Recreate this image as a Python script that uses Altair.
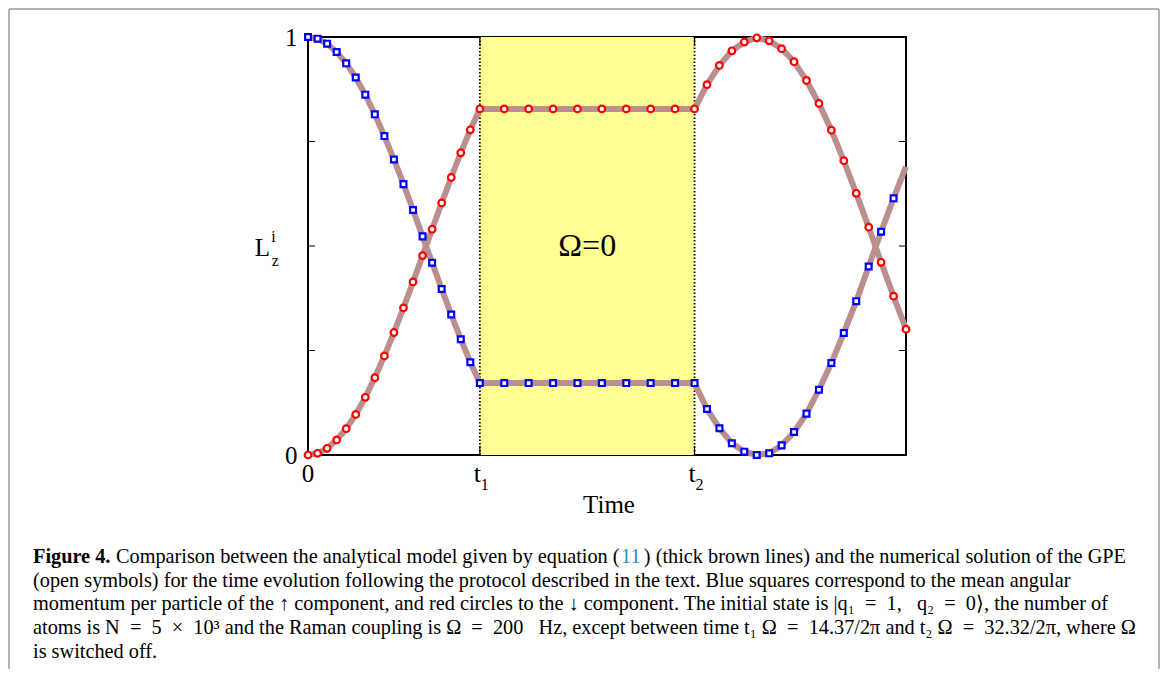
import altair as alt
import pandas as pd

# ---------------- data ----------------
T1 = 14.37
T2 = 32.32
T_END = 50.0

time = [0.0, 0.798, 1.597, 2.395, 3.193, 3.992, 4.790, 5.588, 6.387, 7.185,
        7.983, 8.782, 9.580, 10.378, 11.177, 11.975, 12.773, 13.572, 14.37,
        16.41, 18.45, 20.49, 22.53, 24.57, 26.61, 28.65, 30.69,
        32.32, 33.36, 34.40, 35.44, 36.48, 37.52, 38.56, 39.60, 40.64, 41.68,
        42.72, 43.76, 44.80, 45.84, 46.88, 47.92, 48.96, 50.00]

lz_up = [1.000, 0.996, 0.984, 0.964, 0.937, 0.903, 0.862, 0.815, 0.763, 0.707,
         0.648, 0.586, 0.523, 0.460, 0.397, 0.336, 0.277, 0.222, 0.172,
         0.172, 0.172, 0.172, 0.172, 0.172, 0.172, 0.172, 0.172,
         0.172, 0.110, 0.064, 0.028, 0.008, 0.000, 0.004, 0.023, 0.055, 0.099,
         0.156, 0.220, 0.292, 0.368, 0.451, 0.534, 0.614, 0.690]

lz_down = [0.000, 0.004, 0.016, 0.036, 0.063, 0.097, 0.138, 0.185, 0.237, 0.293,
           0.352, 0.414, 0.477, 0.540, 0.603, 0.664, 0.723, 0.778, 0.828,
           0.828, 0.828, 0.828, 0.828, 0.828, 0.828, 0.828, 0.828,
           0.828, 0.886, 0.932, 0.967, 0.988, 0.998, 0.991, 0.972, 0.941, 0.896,
           0.841, 0.777, 0.704, 0.626, 0.545, 0.461, 0.380, 0.301]

up_marker_n = 44          # last time point of the up curve carries no square
y_ticks = [0.25, 0.5, 0.75]
x_ticks = [T1, T2]
x_sub = ["1", "2"]
omega_label = "Ω=0"

E = "\u2002"  # math spacing around relations
caption_lines = [
    "(open symbols) for the time evolution following the protocol described in the text. Blue squares correspond to the mean angular",
    f"momentum per particle of the ↑ component, and red circles to the ↓ component. The initial state is |q₁{E}={E}1,{E} q₂{E}={E}0⟩, the number of",
    f"atoms is N{E}={E}5{E}×{E}10³ and the Raman coupling is Ω{E}={E}200{E} Hz, except between time t₁ Ω{E}={E}14.37/2π and t₂ Ω{E}={E}32.32/2π, where Ω",
    "is switched off.",
]

# ---------------- styling ----------------
SERIF = "Liberation Serif"
BROWN = "#bc8f8f"
HATCH = "#ffff94"
W, H = 598, 418
CAP = 20.3

df_line = pd.DataFrame({
    "t": time * 2,
    "v": lz_up + lz_down,
    "s": ["up"] * len(time) + ["down"] * len(time),
})
df_up = pd.DataFrame({"t": time[:up_marker_n], "v": lz_up[:up_marker_n]})
df_down = pd.DataFrame({"t": time, "v": lz_down})
df_band = pd.DataFrame({"a": [T1], "b": [T2], "lo": [0.0], "hi": [1.0]})
df_xt = pd.DataFrame({"t": x_ticks, "sub": x_sub})
df_yt = pd.DataFrame({"v": y_ticks})
df_om = pd.DataFrame({"t": [(T1 + T2) / 2], "v": [0.5], "lab": [omega_label]})
df_zero = pd.DataFrame({"t": [0.0]})
one = pd.DataFrame({"a": [0]})

xs = alt.Scale(domain=[0, T_END], nice=False, zero=False)
ys = alt.Scale(domain=[0, 1], nice=False, zero=False)
yaxis = alt.Axis(values=[0, 1], labelExpr="datum.value == 0 ? '0' : '1'",
                 ticks=False, tickSize=0, domain=False, grid=False,
                 labelFont=SERIF, labelFontSize=25, labelColor="black",
                 labelPadding=11, title=None)


def X(f):
    return alt.X(f, type="quantitative", scale=xs, axis=None)


def Y(f):
    return alt.Y(f, type="quantitative", scale=ys, axis=yaxis)


band = alt.Chart(df_band).mark_rect(color=HATCH).encode(
    x=X("a"), x2="b", y=Y("lo"), y2="hi")

dotted = alt.Chart(df_xt).mark_rule(color="black", strokeDash=[1.5, 2], strokeWidth=1.8).encode(
    x=X("t"), y=alt.value(0), y2=alt.value(H))

tick_l = alt.Chart(df_yt).mark_rule(color="black", strokeWidth=1).encode(
    y=Y("v"), x=alt.value(0), x2=alt.value(7))
tick_r = alt.Chart(df_yt).mark_rule(color="black", strokeWidth=1).encode(
    y=Y("v"), x=alt.value(W - 7), x2=alt.value(W))
tick_b = alt.Chart(df_xt).mark_rule(color="black", strokeWidth=1.2).encode(
    x=X("t"), y=alt.value(H - 9), y2=alt.value(H))
tick_t = alt.Chart(df_xt).mark_rule(color="black", strokeWidth=1.2).encode(
    x=X("t"), y=alt.value(0), y2=alt.value(9))

lines = alt.Chart(df_line).mark_line(color=BROWN, strokeWidth=6).encode(
    x=X("t"), y=Y("v"), detail="s")

red_pts = alt.Chart(df_down).mark_point(shape="circle", size=44, filled=True, fill="white",
                                        stroke="#ff0000", strokeWidth=2.2, opacity=1).encode(
    x=X("t"), y=Y("v"))
blue_pts = alt.Chart(df_up).mark_point(shape="square", size=34, filled=True, fill="white",
                                       stroke="#0000ff", strokeWidth=2.2, opacity=1).encode(
    x=X("t"), y=Y("v"))

omega = alt.Chart(df_om).mark_text(font=SERIF, fontSize=32, color="black", baseline="middle").encode(
    x=X("t"), y=Y("v"), text="lab")

xlab0 = alt.Chart(df_zero).mark_text(font=SERIF, fontSize=25, color="black", baseline="alphabetic",
                                     text="0").encode(x=X("t"), y=alt.value(444.7))
xlab_t = alt.Chart(df_xt).mark_text(font=SERIF, fontSize=26, color="black", baseline="alphabetic",
                                    text="t", dx=-2.5).encode(x=X("t"), y=alt.value(444.7))
xlab_s = alt.Chart(df_xt).mark_text(font=SERIF, fontSize=16, color="black", baseline="alphabetic",
                                    dx=5).encode(x=X("t"), y=alt.value(453), text="sub")


def label(txt, x, y, size, align="center", weight="normal", color="black", baseline="alphabetic"):
    return alt.Chart(one).mark_text(text=txt, font=SERIF, fontSize=size, align=align,
                                    fontWeight=weight, color=color, baseline=baseline).encode(
        x=alt.value(x), y=alt.value(y))


ytitle = [label("L", -45.5, 219, 25), label("i", -34.5, 205, 16), label("z", -32.7, 228.5, 16)]
xtitle = label("Time", 301, 468, 25, baseline="middle")

cap_y = [525.7, 549.5, 573.2, 597.0, 620.7]
caption = [
    label("Figure 4.", -275, cap_y[0], CAP, align="left", weight="bold"),
    label("Comparison between the analytical model given by equation (", -192, cap_y[0], CAP, align="left"),
    label("11", 313, cap_y[0], CAP, align="left", color="#2b8cbe"),
    label(") (thick brown lines) and the numerical solution of the GPE", 818, cap_y[0], CAP, align="right"),
]
for i, line in enumerate(caption_lines):
    caption.append(label(line, -275, cap_y[i + 1], CAP, align="left"))

border_col = "#9a9a9a"
borders = [
    alt.Chart(one).mark_rule(color=border_col, strokeWidth=1.5).encode(
        x=alt.value(-299), y=alt.value(-28), y2=alt.value(640)),
    alt.Chart(one).mark_rule(color=border_col, strokeWidth=1.5).encode(
        x=alt.value(851), y=alt.value(-28), y2=alt.value(640)),
    alt.Chart(one).mark_rule(color=border_col, strokeWidth=1.5).encode(
        x=alt.value(-299), x2=alt.value(851), y=alt.value(-28)),
]

chart = alt.layer(
    band, dotted, tick_l, tick_r, tick_b, tick_t, lines, red_pts, blue_pts,
    omega, xlab0, xlab_t, xlab_s, *ytitle, xtitle, *caption, *borders
).properties(
    width=W, height=H,
    padding={"left": 300, "top": 29, "right": 254, "bottom": 214},
    autosize=alt.AutoSizeParams(type="none"),
    background="white",
).configure_view(stroke="black", strokeWidth=2)

chart.save("out.html", embed_options={"renderer": "svg", "actions": False})
